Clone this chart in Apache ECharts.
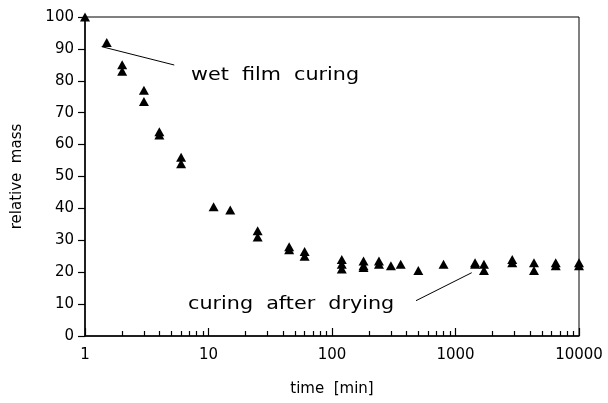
<!DOCTYPE html>
<html>
<head>
<meta charset="utf-8">
<script src="https://cdn.jsdelivr.net/npm/echarts@6/dist/echarts.min.js"></script>
<style>
  html, body { margin: 0; padding: 0; background: #fff; }
  #chart { width: 608px; height: 403px; }
</style>
</head>
<body>
<div id="chart"></div>
<script>
// Curing time in minutes and the relative mass measured at that time (%)
const times = [1, 1.5, 2, 2, 3, 3, 4, 4, 6, 6, 11, 15, 25, 25, 45, 45, 60, 60,
  120, 120, 120, 180, 180, 180, 240, 240, 300, 360, 500, 800,
  1440, 1440, 1700, 1700, 2880, 2880, 4320, 4320, 6480, 6480, 10000, 10000];
const relativeMass = [100, 92, 85, 83, 77, 73.5, 64, 63, 56, 54, 40.5, 39.5, 33, 31, 28, 27, 26.5, 25,
  24, 22.5, 21, 23.5, 22, 21.5, 23.5, 22.5, 22, 22.5, 20.5, 22.5,
  23, 22.5, 22.5, 20.5, 24, 23, 23, 20.5, 23, 22, 23, 22];

// Axis ranges and ticks
const xMin = 1, xMax = 10000;
const yMin = 0, yMax = 100, yStep = 10;
const minorTimeTicks = [2, 3, 4, 5, 6, 7, 8, 9, 20, 30, 40, 50, 60, 70, 80, 90,
  200, 300, 400, 500, 600, 700, 800, 900, 2000, 3000, 4000, 5000, 6000, 7000, 8000, 9000];

// Annotation pointer lines (time, mass) -> (time, mass)
const wetLine = [[1.365, 90.7], [5.28, 84.95]];
const dryLine = [[479, 11.07], [1352, 19.84]];
const wetLabel = 'wet  film  curing';
const dryLabel = 'curing  after  drying';

const FONT = '"DejaVu Sans", sans-serif';
const chart = echarts.init(document.getElementById('chart'), null, { renderer: 'canvas' });

const points = times.map((t, i) => [t, relativeMass[i]]);

chart.setOption({
  animation: false,
  backgroundColor: '#fff',
  grid: {
    left: 85, right: 29, top: 17, bottom: 67,
    show: true, borderColor: '#000', borderWidth: 1, backgroundColor: 'transparent'
  },
  xAxis: [
    {
      type: 'log', logBase: 10, min: xMin, max: xMax, position: 'bottom',
      name: 'time  [min]', nameLocation: 'middle', nameGap: 46,
      nameTextStyle: { color: '#000', fontFamily: FONT, fontSize: 15 },
      axisLine: { show: true, lineStyle: { color: '#000', width: 1.5 } },
      axisTick: { show: true, inside: true, length: 8, lineStyle: { color: '#000', width: 1.2 } },
      axisLabel: { color: '#000', fontFamily: FONT, fontSize: 15, margin: 12,
        formatter: v => String(Math.round(v)) },
      splitLine: { show: false }
    },
    {
      // minor ticks placed on the decade exponent scale (log10 of minutes)
      type: 'value', min: Math.log10(xMin), max: Math.log10(xMax), position: 'bottom',
      axisLine: { show: false },
      axisTick: { show: true, inside: true, length: 5,
        customValues: minorTimeTicks.map(v => Math.log10(v)),
        lineStyle: { color: '#000', width: 1.2 } },
      axisLabel: { show: false },
      splitLine: { show: false }
    }
  ],
  yAxis: {
    type: 'value', min: yMin, max: yMax, interval: yStep,
    name: 'relative  mass', nameLocation: 'middle', nameGap: 60,
    nameTextStyle: { color: '#000', fontFamily: FONT, fontSize: 15 },
    axisLine: { show: true, lineStyle: { color: '#000', width: 1.5 } },
    axisTick: { show: true, inside: false, length: 7, lineStyle: { color: '#000', width: 1.2 } },
    axisLabel: { color: '#000', fontFamily: FONT, fontSize: 15, margin: 11 },
    splitLine: { show: false }
  },
  series: [{
    type: 'scatter',
    xAxisIndex: 0,
    data: points,
    symbol: 'triangle',
    symbolSize: [10, 9],
    clip: false,
    itemStyle: { color: '#000', opacity: 1 },
    markLine: {
      silent: true,
      symbol: 'none',
      label: { show: false },
      lineStyle: { color: '#000', width: 1, type: 'solid' },
      data: [
        [{ coord: wetLine[0] }, { coord: wetLine[1] }],
        [{ coord: dryLine[0] }, { coord: dryLine[1] }]
      ]
    }
  }],
  graphic: [
    {
      type: 'text', x: 191, y: 75, scaleX: 1.15,
      style: { text: wetLabel, x: 0, y: 0, fill: '#000', font: '18px ' + FONT,
        textAlign: 'left', textVerticalAlign: 'middle' }
    },
    {
      type: 'text', x: 188, y: 304.5, scaleX: 1.15,
      style: { text: dryLabel, x: 0, y: 0, fill: '#000', font: '18px ' + FONT,
        textAlign: 'left', textVerticalAlign: 'middle' }
    }
  ]
});
</script>
</body>
</html>
